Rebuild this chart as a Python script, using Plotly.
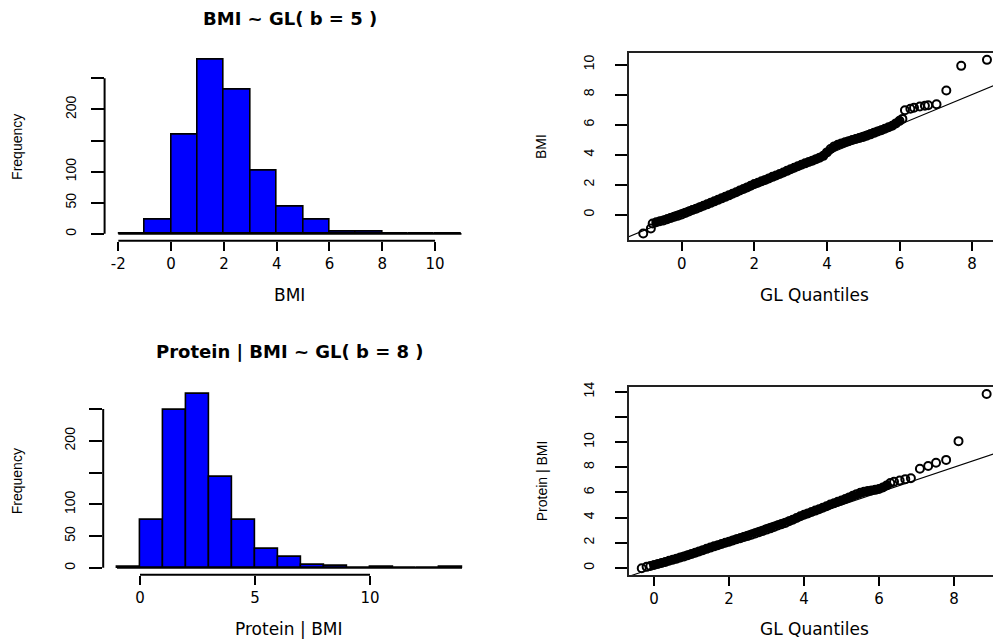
import plotly.graph_objects as go

# ---------------- data ----------------
bmi_breaks = [-2, -1, 0, 1, 2, 3, 4, 5, 6, 7, 8, 9, 10, 11]
bmi_counts = [1, 22, 160, 280, 231, 102, 43, 23, 4, 4, 1, 1, 1]

prot_breaks = [-1, 0, 1, 2, 3, 4, 5, 6, 7, 8, 9, 10, 11, 12, 13, 14]
prot_counts = [1, 76, 248, 274, 144, 76, 30, 17, 4, 3, 0, 1, 0, 0, 1]

hist_y_ticks = [0, 50, 100, 150, 200, 250]
hist_y_text = ["0", "50", "100", "", "200", ""]
bmi_x_ticks = [-2, 0, 2, 4, 6, 8, 10]
prot_x_ticks = [0, 5, 10]

qq1_theo = [-1.06, -0.85, -0.80, -0.70, -0.60, -0.50, -0.40, -0.30, -0.20, -0.10,
            0.00, 0.10, 0.20, 0.30, 0.40, 0.50, 0.60, 0.70, 0.80, 0.90,
            1.00, 1.10, 1.20, 1.30, 1.40, 1.50, 1.60, 1.70, 1.80, 1.90,
            2.00, 2.10, 2.20, 2.30, 2.40, 2.50, 2.60, 2.70, 2.80, 2.90,
            3.00, 3.10, 3.20, 3.30, 3.40, 3.50, 3.60, 3.70, 3.80, 3.90,
            4.00, 4.10, 4.20, 4.30, 4.40, 4.50, 4.60, 4.70, 4.80, 4.90,
            5.00, 5.10, 5.20, 5.30, 5.40, 5.50, 5.60, 5.70, 5.80, 5.90,
            6.00, 6.08, 6.15, 6.30, 6.40, 6.56, 6.70, 6.79, 7.02, 7.29,
            7.70, 8.41]
qq1_sample = [-1.25, -0.92, -0.58, -0.50, -0.44, -0.38, -0.30, -0.22, -0.14, -0.06,
              0.02, 0.12, 0.21, 0.31, 0.40, 0.50, 0.60, 0.69, 0.79, 0.89,
              0.99, 1.09, 1.19, 1.29, 1.40, 1.50, 1.61, 1.71, 1.82, 1.93,
              2.04, 2.13, 2.23, 2.32, 2.42, 2.52, 2.61, 2.71, 2.81, 2.92,
              3.03, 3.13, 3.23, 3.33, 3.42, 3.51, 3.60, 3.70, 3.80, 3.92,
              4.15, 4.38, 4.55, 4.66, 4.75, 4.83, 4.90, 4.97, 5.04, 5.11,
              5.18, 5.26, 5.35, 5.45, 5.54, 5.63, 5.72, 5.82, 5.92, 6.08,
              6.25, 6.38, 6.96, 7.05, 7.12, 7.20, 7.25, 7.29, 7.35, 8.27,
              9.91, 10.31]
qq1_band_end = 6.08

qq2_theo = [-0.33, -0.20, -0.10, 0.00, 0.10, 0.20, 0.30, 0.40, 0.50, 0.60,
            0.70, 0.80, 0.90, 1.00, 1.10, 1.20, 1.30, 1.40, 1.50, 1.60,
            1.70, 1.80, 1.90, 2.00, 2.10, 2.20, 2.30, 2.40, 2.50, 2.60,
            2.70, 2.80, 2.90, 3.00, 3.10, 3.20, 3.30, 3.40, 3.50, 3.60,
            3.70, 3.80, 3.90, 4.00, 4.10, 4.20, 4.30, 4.40, 4.50, 4.60,
            4.70, 4.80, 4.90, 5.00, 5.10, 5.20, 5.30, 5.40, 5.50, 5.60,
            5.70, 5.80, 5.90, 6.00, 6.10, 6.20, 6.30, 6.40, 6.55, 6.70,
            6.85, 7.09, 7.31, 7.52, 7.79, 8.12, 8.87]
qq2_sample = [-0.03, 0.08, 0.15, 0.23, 0.31, 0.39, 0.47, 0.56, 0.65, 0.73,
              0.82, 0.91, 1.01, 1.11, 1.21, 1.31, 1.41, 1.51, 1.61, 1.71,
              1.80, 1.90, 1.99, 2.08, 2.17, 2.27, 2.36, 2.45, 2.54, 2.63,
              2.73, 2.83, 2.93, 3.04, 3.14, 3.25, 3.36, 3.47, 3.57, 3.70,
              3.83, 3.97, 4.10, 4.22, 4.33, 4.44, 4.55, 4.66, 4.78, 4.90,
              5.03, 5.14, 5.25, 5.36, 5.48, 5.60, 5.73, 5.86, 5.97, 6.05,
              6.10, 6.15, 6.20, 6.27, 6.38, 6.55, 6.74, 6.85, 6.95, 7.05,
              7.12, 7.87, 8.10, 8.36, 8.58, 10.07, 13.82]
qq2_band_end = 6.30

qq_x_ticks = [0, 2, 4, 6, 8]
qq1_y_ticks = [0, 2, 4, 6, 8, 10]
qq1_y_text = ["0", "2", "4", "6", "8", "10"]
qq2_y_ticks = [0, 2, 4, 6, 8, 10, 12, 14]
qq2_y_text = ["0", "2", "4", "6", "8", "10", "", "14"]

ref_intercept = 0.0
ref_slope = 1.0

# ---------------- layout geometry (pixels of a 993x641 page) ----------------
W, H = 993, 641
def fx(px):
    return px / W
def fy(py):
    return 1 - py / H

dom = {
    "tl": ([fx(104.6), fx(475.2)], [fy(237.7), fy(48.1)]),
    "bl": ([fx(103.2), fx(475.8)], [fy(574.3), fy(384.9)]),
    "tr": ([fx(629), 1.0], [fy(237.3), fy(48.3)]),
    "br": ([fx(629), 1.0], [fy(574.7), fy(385.0)]),
}

def r_range(lo, hi):
    e = 0.04 * (hi - lo)
    return [lo - e, hi + e]

BLUE = "#0000FF"
HFONT = "DejaVu Sans"
VFONT = "Liberation Sans"

fig = go.Figure()

def add_hist(breaks, counts, xa, ya):
    centers = [(breaks[i] + breaks[i + 1]) / 2 for i in range(len(counts))]
    widths = [breaks[i + 1] - breaks[i] for i in range(len(counts))]
    fig.add_trace(go.Scatter(x=[breaks[0], breaks[-1]], y=[0, 0], mode="lines",
                             line=dict(color="black", width=1.6),
                             xaxis=xa, yaxis=ya, hoverinfo="skip"))
    fig.add_trace(go.Bar(x=centers, y=counts, width=widths,
                         marker=dict(color=BLUE, line=dict(color="black", width=1.6)),
                         xaxis=xa, yaxis=ya))

def add_qq(theo, sample, band_end, xa, ya, xr):
    bx = [t for t in theo if t <= band_end and t > theo[2] - 1e-9]
    by = [s for t, s in zip(theo, sample) if t <= band_end and t > theo[2] - 1e-9]
    fig.add_trace(go.Scatter(x=[xr[0] - 1, xr[1] + 1],
                             y=[ref_intercept + ref_slope * (xr[0] - 1),
                                ref_intercept + ref_slope * (xr[1] + 1)],
                             mode="lines", line=dict(color="black", width=1.1),
                             xaxis=xa, yaxis=ya, hoverinfo="skip"))
    fig.add_trace(go.Scatter(x=bx, y=by, mode="lines",
                             line=dict(color="black", width=8),
                             xaxis=xa, yaxis=ya, hoverinfo="skip"))
    fig.add_trace(go.Scatter(x=theo, y=sample, mode="markers",
                             marker=dict(symbol="circle-open", size=8, color="black",
                                         line=dict(width=2, color="black")),
                             xaxis=xa, yaxis=ya, cliponaxis=True))

# ranges
tl_xr = r_range(bmi_breaks[0], bmi_breaks[-1])
tl_yr = r_range(0, max(bmi_counts))
bl_xr = r_range(prot_breaks[0], prot_breaks[-1])
bl_yr = r_range(0, max(prot_counts))
tr_xr = [-1.452, 8.576]
tr_yr = r_range(min(qq1_sample), max(qq1_sample))
br_xr = [-0.67, 9.04]
br_yr = r_range(min(qq2_sample), max(qq2_sample))

add_hist(bmi_breaks, bmi_counts, "x", "y")
add_qq(qq1_theo, qq1_sample, qq1_band_end, "x2", "y2", tr_xr)
add_hist(prot_breaks, prot_counts, "x3", "y3")
add_qq(qq2_theo, qq2_sample, qq2_band_end, "x4", "y4", br_xr)

xtickfont = dict(family=HFONT, size=15, color="black")
ytickfont = dict(family=VFONT, size=14, color="black")

def hist_xaxis(domain, rng, ticks, anchor):
    return dict(domain=domain, range=rng, anchor=anchor, tickmode="array",
                tickvals=ticks, ticktext=[str(t) for t in ticks],
                ticks="outside", ticklen=9, tickwidth=2, tickcolor="black",
                showline=False, showgrid=False, zeroline=False,
                tickfont=xtickfont, ticklabelstandoff=0)

def hist_yaxis(domain, rng, anchor):
    return dict(domain=domain, range=rng, anchor=anchor, tickmode="array",
                tickvals=hist_y_ticks, ticktext=hist_y_text, tickangle=-90,
                ticks="outside", ticklen=13, tickwidth=2, tickcolor="black",
                showline=False, showgrid=False, zeroline=False,
                tickfont=ytickfont, ticklabelstandoff=9)

def qq_xaxis(domain, rng, anchor):
    return dict(domain=domain, range=rng, anchor=anchor, tickmode="array",
                tickvals=qq_x_ticks, ticktext=[str(t) for t in qq_x_ticks],
                ticks="outside", ticklen=9, tickwidth=2, tickcolor="black",
                showline=True, linecolor="#222222", linewidth=1.5, mirror=True,
                showgrid=False, zeroline=False,
                tickfont=xtickfont, ticklabelstandoff=0)

def qq_yaxis(domain, rng, anchor, ticks, text):
    return dict(domain=domain, range=rng, anchor=anchor, tickmode="array",
                tickvals=ticks, ticktext=text, tickangle=-90,
                ticks="outside", ticklen=12, tickwidth=2, tickcolor="black",
                showline=True, linecolor="#222222", linewidth=1.5, mirror=False,
                showgrid=False, zeroline=False,
                tickfont=ytickfont, ticklabelstandoff=16)

fig.update_layout(
    width=W, height=H,
    margin=dict(l=0, r=0, t=0, b=0),
    paper_bgcolor="white", plot_bgcolor="white",
    showlegend=False, bargap=0,
    xaxis=hist_xaxis(dom["tl"][0], tl_xr, bmi_x_ticks, "y"),
    yaxis=hist_yaxis(dom["tl"][1], tl_yr, "x"),
    xaxis2=qq_xaxis(dom["tr"][0], tr_xr, "y2"),
    yaxis2=qq_yaxis(dom["tr"][1], tr_yr, "x2", qq1_y_ticks, qq1_y_text),
    xaxis3=hist_xaxis(dom["bl"][0], bl_xr, prot_x_ticks, "y3"),
    yaxis3=hist_yaxis(dom["bl"][1], bl_yr, "x3"),
    xaxis4=qq_xaxis(dom["br"][0], br_xr, "y4"),
    yaxis4=qq_yaxis(dom["br"][1], br_yr, "x4", qq2_y_ticks, qq2_y_text),
)

# R-style axis lines spanning the tick range for the histograms
shapes = []
for xref, yref, xt, d in [("x", "y", bmi_x_ticks, dom["tl"]), ("x3", "y3", prot_x_ticks, dom["bl"])]:
    shapes.append(dict(type="line", xref=xref, yref="paper", x0=xt[0], x1=xt[-1],
                       y0=d[1][0], y1=d[1][0], line=dict(color="black", width=2)))
    shapes.append(dict(type="line", xref="paper", yref=yref, x0=d[0][0], x1=d[0][0],
                       y0=hist_y_ticks[0], y1=hist_y_ticks[-1], line=dict(color="black", width=2)))
fig.update_layout(shapes=shapes)

# titles and axis labels
ann = []
def title(text, px, py):
    ann.append(dict(text="<b>" + text + "</b>", x=fx(px), y=fy(py), xref="paper", yref="paper",
                    showarrow=False, xanchor="center", yanchor="middle",
                    font=dict(family=HFONT, size=18, color="black")))
def xlab(text, px, py):
    ann.append(dict(text=text, x=fx(px), y=fy(py), xref="paper", yref="paper",
                    showarrow=False, xanchor="center", yanchor="middle",
                    font=dict(family=HFONT, size=17, color="black")))
def ylab(text, px, py):
    ann.append(dict(text=text, x=fx(px), y=fy(py), xref="paper", yref="paper",
                    showarrow=False, xanchor="center", yanchor="middle", textangle=-90,
                    font=dict(family=VFONT, size=14, color="black")))

title("BMI ~ GL( b = 5 )", 290, 14)
title("Protein | BMI ~ GL( b = 8 )", 290, 349.5)
xlab("BMI", 289, 292)
xlab("Protein | BMI", 288.3, 629)
xlab("GL Quantiles", 814, 292)
xlab("GL Quantiles", 814, 629)
ylab("Frequency", 17, 143)
ylab("Frequency", 17, 480)
ylab("BMI", 541.7, 142.5)
ylab("Protein | BMI", 542, 480)
fig.update_layout(annotations=ann)

fig.write_html("out.html",
               config={"displayModeBar": False},
               post_script="document.body.style.margin='0px';document.body.style.overflow='hidden';")
